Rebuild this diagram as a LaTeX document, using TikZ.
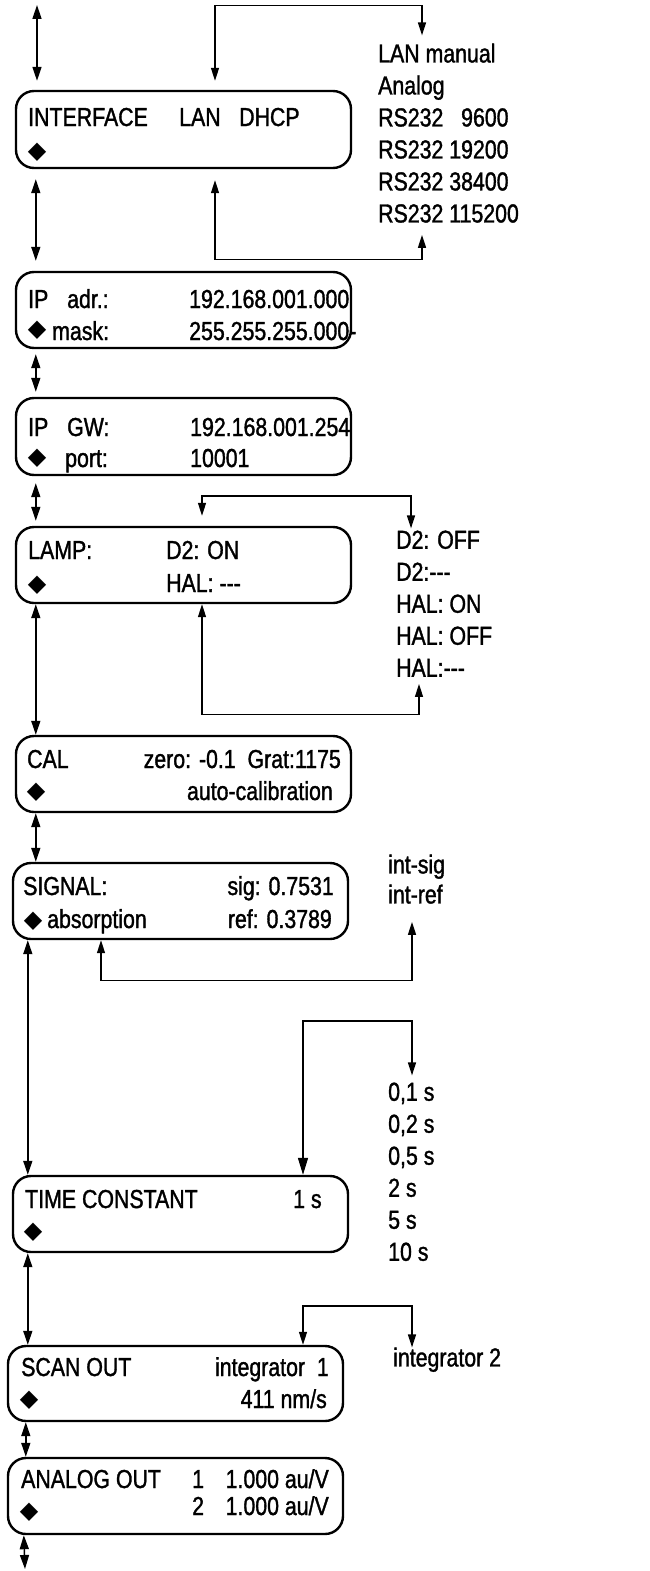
\documentclass[tikz,border=0pt]{standalone}
\usepackage{fontspec}
\setmainfont{Liberation Sans}[FakeStretch=0.82, FakeBold=1.3]
\newfontfamily\symfont{DejaVu Sans}
\usetikzlibrary{arrows.meta,calc}

\begin{document}
\begin{tikzpicture}[x=1pt, y=-1pt,
      font=\fontsize{26}{32}\selectfont,
      box/.style={draw, line width=2.4pt, rounded corners=18pt,
                  minimum width=335pt, minimum height=76pt, inner sep=0pt},
      txt/.style={inner sep=0pt, anchor=base west},
      rtxt/.style={inner sep=0pt, anchor=base east},
      lst/.style={inner sep=0pt, anchor=north west, align=left},
      dia/.style={inner sep=0pt, font=\symfont\fontsize{24}{24}\selectfont},
      dbl/.style={{Triangle[length=14pt,width=9pt]}-{Triangle[length=14pt,width=9pt]},
                  line width=1.5pt},
      link/.style={{Triangle[length=13pt,width=8pt]}-{Triangle[length=13pt,width=8pt]},
                   line width=1.4pt}
    ]
    \useasboundingbox (0,0) rectangle (649,1571);

    % interface
    \node[box, minimum height=77pt] (ifc) at (183.5,129.5) {};
    \node[txt] (ifc-a) at (28,126) {INTERFACE};
    \node[txt] (ifc-b) at (179,126) {LAN};
    \node[txt] (ifc-c) at (239,126) {DHCP};
    \node[dia] (ifc-d) at (37,152) {◆};
    \node[lst] (lan) at (378,43.4) {LAN manual\\Analog\\RS232 \phantom{1}9600\\
      RS232 19200\\RS232 38400\\RS232 115200};

    % ip address
    \node[box] (ipa) at (183.5,310) {};
    \node[txt] (ipa-a) at (28,308) {IP};
    \node[txt] (ipa-b) at (67,308) {adr.:};
    \node[txt] (ipa-c) at (189,308) {192.168.001.000};
    \node[dia] (ipa-d) at (37,330) {◆};
    \node[txt] (ipa-e) at (52,340) {mask:};
    \node[txt] (ipa-f) at (189,340) {255.255.255.000-};

    % ip gateway
    \node[box, minimum height=77pt] (ipg) at (183.5,436.5) {};
    \node[txt] (ipg-a) at (28,436) {IP};
    \node[txt] (ipg-b) at (67,436) {GW:};
    \node[txt] (ipg-c) at (190,436) {192.168.001.254};
    \node[dia] (ipg-d) at (37,458) {◆};
    \node[txt] (ipg-e) at (65,467) {port:};
    \node[txt] (ipg-f) at (190,467) {10001};

    % lamp
    \node[box] (lmp) at (183.5,565) {};
    \node[txt] (lmp-a) at (28,559) {LAMP:};
    \node[txt] (lmp-b) at (166,559) {D2: ON};
    \node[dia] (lmp-d) at (37,585) {◆};
    \node[txt] (lmp-c) at (166,592) {HAL: -{}-{}-};
    \node[lst] (d2) at (396,530.4) {D2: OFF\\D2:-{}-{}-\\HAL: ON\\HAL: OFF\\HAL:-{}-{}-};

    % calibration
    \node[box] (cal) at (183.5,774) {};
    \node[txt] (cal-a) at (27,768) {CAL};
    \node[rtxt] (cal-b) at (341,768) {zero: -0.1\ \ Grat:1175};
    \node[dia] (cal-d) at (36,792) {◆};
    \node[rtxt] (cal-c) at (333,800) {auto-calibration};

    % signal
    \node[box] (sig) at (180.5,901) {};
    \node[txt] (sig-a) at (23,895) {SIGNAL:};
    \node[rtxt] (sig-b) at (334,895) {sig: 0.7531};
    \node[dia] (sig-d) at (33,921) {◆};
    \node[txt] (sig-c) at (47,928) {absorption};
    \node[rtxt] (sig-e) at (332,928) {ref: 0.3789};
    \node[lst] (isg) at (388,854.4) {int-sig\\[-2pt]int-ref};

    % time constant
    \node[box] (tc) at (180.5,1214) {};
    \node[txt] (tc-a) at (25,1208) {TIME CONSTANT};
    \node[txt] (tc-b) at (293,1208) {1 s};
    \node[dia] (tc-d) at (33,1232) {◆};
    \node[lst] (tcl) at (388,1082.4) {0,1 s\\0,2 s\\0,5 s\\2 s\\5 s\\10 s};

    % scan out
    \node[box, minimum height=75pt] (sco) at (175.5,1383.5) {};
    \node[txt] (sco-a) at (21,1376) {SCAN OUT};
    \node[rtxt] (sco-b) at (329,1376) {integrator\ \ 1};
    \node[dia] (sco-d) at (29,1400) {◆};
    \node[rtxt] (sco-c) at (327,1408) {411 nm/s};
    \node[lst] (it2) at (393,1347.4) {integrator 2};

    % analog out
    \node[box] (ano) at (175.5,1496) {};
    \node[txt] (ano-a) at (21,1488) {ANALOG OUT};
    \node[txt] (ano-b) at (192,1488) {1};
    \node[rtxt] (ano-c) at (329,1488) {1.000 au/V};
    \node[dia] (ano-d) at (29,1512) {◆};
    \node[txt] (ano-e) at (192,1515) {2};
    \node[rtxt] (ano-f) at (329,1515) {1.000 au/V};

    \coordinate (top) at (37,5);
    \coordinate (bot) at (25,1569);

    % menu chain
    \draw[dbl, shorten >=9pt] (top) -- (top |- ifc.north);
    \draw[dbl, shorten <=10pt, shorten >=10pt] ([xshift=21pt]ifc.south west) -- ([xshift=21pt]ipa.north west);
    \draw[dbl, shorten <=5pt, shorten >=5pt] ([xshift=21pt]ipa.south west) -- ([xshift=21pt]ipg.north west);
    \draw[dbl, shorten <=7pt, shorten >=5pt] ([xshift=21pt]ipg.south west) -- ([xshift=21pt]lmp.north west);
    \draw[dbl] ([xshift=21pt]lmp.south west) -- ([xshift=21pt]cal.north west);
    \draw[dbl] ([xshift=21pt]cal.south west) -- ([xshift=21pt]cal.south west |- sig.north);
    \draw[dbl] ([xshift=16pt]sig.south west) -- ([xshift=16pt]tc.north west);
    \draw[dbl] ([xshift=16pt]tc.south west) -- ([xshift=16pt]tc.south west |- sco.north);
    \draw[dbl] ([xshift=19pt]sco.south west) -- ([xshift=19pt]ano.north west);
    \draw[dbl] ([xshift=17pt]ano.south west) -- (bot);

    % choice loops
    \draw[link, shorten <=9pt, shorten >=8pt] ([xshift=31.5pt]ifc.north) -- ++(0,-84) -| ([xshift=44pt]lan.north west);
    \draw[link, shorten <=11pt, shorten >=12pt] ([xshift=31.5pt]ifc.south) -- ++(0,90) -| ([xshift=44pt]lan.south west);
    \draw[link, shorten <=10pt, shorten >=2pt] ([xshift=18.5pt]lmp.north) -- ++(0,-30) -| ([xshift=15pt]d2.north west);
    \draw[link, shorten >=7pt] ([xshift=18.5pt]lmp.south) -- ++(0,110) -| ([xshift=23pt]d2.south west);
    \draw[link, shorten >=18pt] ([xshift=-79.5pt]sig.south) -- ++(0,40) -| ([xshift=24pt]isg.south west);
    \draw[link, {Triangle[length=17pt,width=10pt]}-{Triangle[length=13pt,width=8pt]}, shorten >=7pt]
      ([xshift=122.5pt]tc.north) -- ++(0,-154) -| ([xshift=24pt]tcl.north west);
    \draw[link] ([xshift=127.5pt]sco.north) -- ++(0,-39) -| ([xshift=19pt]it2.north west);
  \end{tikzpicture}
\end{document}
